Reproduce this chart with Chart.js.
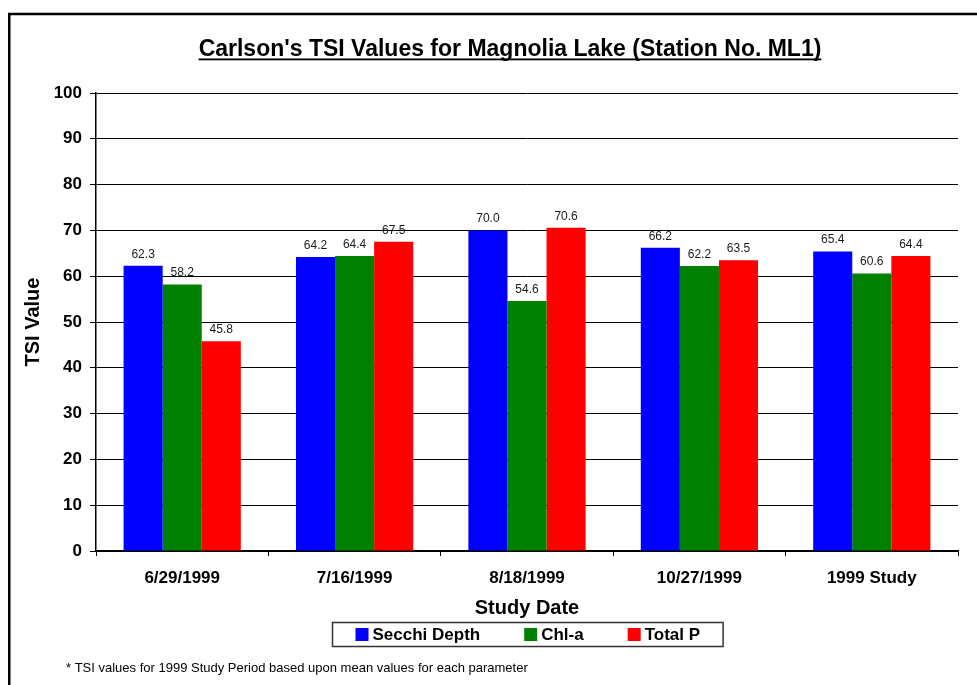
<!DOCTYPE html>
<html>
<head>
<meta charset="utf-8">
<script src="https://cdn.jsdelivr.net/npm/chart.js@4.4.1/dist/chart.umd.min.js"></script>
<style>
  html, body { margin: 0; padding: 0; background: #fff; }
  #wrap { width: 977px; height: 685px; position: relative; }
</style>
</head>
<body>
<div id="wrap"><canvas id="tsi" width="977" height="685"></canvas></div>
<script>
// Sampling dates (last entry is the study-period mean)
const studyDates = ['6/29/1999', '7/16/1999', '8/18/1999', '10/27/1999', '1999 Study'];

// Carlson's Trophic State Index per parameter
const secchiDepth = [62.3, 64.2, 70.0, 66.2, 65.4];
const chlA        = [58.2, 64.4, 54.6, 62.2, 60.6];
const totalP      = [45.8, 67.5, 70.6, 63.5, 64.4];

// Value axis ticks
const yTicks = [0, 10, 20, 30, 40, 50, 60, 70, 80, 90, 100];

const FONT = '"Liberation Sans", Arial, Helvetica, sans-serif';
const chartTitle = "Carlson's TSI Values for Magnolia Lake (Station No. ML1)";
const footnote = '* TSI values for 1999 Study Period based upon mean values for each parameter';

const PAD = { left: 13, right: 19, top: 93, bottom: 67 };

// Page frame, underlined title, boxed legend, footnote and value labels
const decorations = {
  id: 'decorations',
  beforeDraw(chart) {
    const ctx = chart.ctx;
    ctx.save();
    ctx.fillStyle = '#fff';
    ctx.fillRect(0, 0, chart.width, chart.height);
    ctx.restore();
  },
  afterDatasetsDraw(chart) {
    const ctx = chart.ctx;
    ctx.save();
    ctx.font = '12px ' + FONT;
    ctx.fillStyle = '#1a1a1a';
    ctx.textAlign = 'center';
    ctx.textBaseline = 'alphabetic';
    chart.data.datasets.forEach((ds, i) => {
      const meta = chart.getDatasetMeta(i);
      meta.data.forEach((bar, j) => {
        ctx.fillText(ds.data[j].toFixed(1), bar.x, bar.y - 8);
      });
    });
    ctx.restore();
  },
  afterDraw(chart) {
    const ctx = chart.ctx;
    const area = chart.chartArea;
    ctx.save();

    // outer frame
    ctx.strokeStyle = '#000';
    ctx.lineWidth = 2.5;
    ctx.strokeRect(9.25, 14, chart.width + 40, chart.height + 40);

    // title with underline
    ctx.font = 'bold 23px ' + FONT;
    ctx.fillStyle = '#000';
    ctx.textAlign = 'center';
    ctx.textBaseline = 'alphabetic';
    const tx = 510, ty = 56;
    ctx.fillText(chartTitle, tx, ty);
    const tw = ctx.measureText(chartTitle).width;
    ctx.fillRect(tx - tw / 2, ty + 2.5, tw, 1.8);

    // legend
    ctx.font = 'bold 17px ' + FONT;
    const sq = 13, gapText = 4, gapItem = 44, padX = 23;
    const items = chart.data.datasets.map(ds => ({
      label: ds.label, color: ds.backgroundColor,
      w: sq + gapText + ctx.measureText(ds.label).width
    }));
    const inner = items.reduce((s, it) => s + it.w, 0) + gapItem * (items.length - 1);
    const boxW = inner + padX * 2, boxH = 24;
    const cx = (area.left + area.right) / 2;
    const bx = Math.round(cx - boxW / 2) + 0.5, by = 622.5;
    ctx.strokeStyle = '#333';
    ctx.lineWidth = 1.5;
    ctx.strokeRect(bx, by, boxW, boxH);
    let x = bx + padX;
    const cy = by + boxH / 2;
    ctx.textAlign = 'left';
    ctx.textBaseline = 'middle';
    items.forEach(it => {
      ctx.fillStyle = it.color;
      ctx.fillRect(x, cy - sq / 2, sq, sq);
      ctx.fillStyle = '#000';
      ctx.fillText(it.label, x + sq + gapText, cy + 1);
      x += it.w + gapItem;
    });

    // footnote
    ctx.font = '13px ' + FONT;
    ctx.fillStyle = '#000';
    ctx.textAlign = 'left';
    ctx.textBaseline = 'middle';
    ctx.fillText(footnote, 66, 668);

    ctx.restore();
  }
};

new Chart(document.getElementById('tsi'), {
  type: 'bar',
  data: {
    labels: studyDates,
    datasets: [
      { label: 'Secchi Depth', data: secchiDepth, backgroundColor: '#0000FF' },
      { label: 'Chl-a',        data: chlA,        backgroundColor: '#008000' },
      { label: 'Total P',      data: totalP,      backgroundColor: '#FF0000' }
    ]
  },
  options: {
    responsive: false,
    animation: false,
    layout: { padding: PAD },
    datasets: { bar: { categoryPercentage: 0.68, barPercentage: 1.0, borderWidth: 0 } },
    plugins: {
      legend: { display: false },
      title: { display: false },
      tooltip: { enabled: false }
    },
    scales: {
      x: {
        offset: true,
        grid: { display: true, offset: true, drawOnChartArea: false, drawTicks: true,
                tickLength: 5, color: '#000', lineWidth: 1 },
        border: { display: true, color: '#000', width: 1.5 },
        ticks: { color: '#000', font: { family: FONT, size: 17, weight: 'bold' }, padding: 12 },
        title: { display: true, text: 'Study Date', color: '#000',
                 font: { family: FONT, size: 20, weight: 'bold' }, padding: { top: 0, bottom: -2 } },
        afterFit(scale) { scale.height = 67; }
      },
      y: {
        min: 0, max: 100,
        afterBuildTicks(scale) { scale.ticks = yTicks.map(v => ({ value: v })); },
        grid: { color: '#000', lineWidth: 1, drawTicks: true, tickLength: 6 },
        border: { display: true, color: '#000', width: 1.5 },
        ticks: { color: '#000', font: { family: FONT, size: 17, weight: 'bold' }, padding: 8 },
        title: { display: true, text: 'TSI Value', color: '#000',
                 font: { family: FONT, size: 20, weight: 'bold' }, padding: { top: 8, bottom: 0 } },
        afterFit(scale) { scale.width = 96 - PAD.left; }
      }
    }
  },
  plugins: [decorations]
});
</script>
</body>
</html>
